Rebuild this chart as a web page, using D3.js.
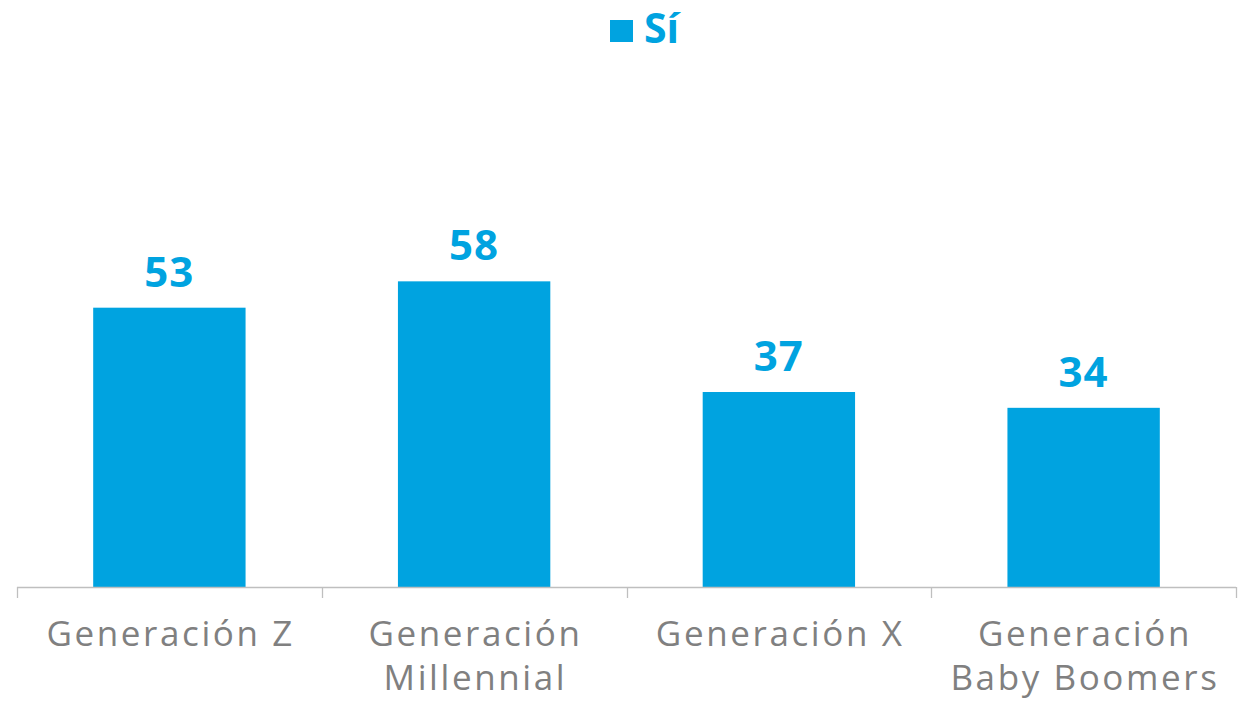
<!DOCTYPE html>
<html>
<head>
<meta charset="utf-8">
<script src="https://cdn.jsdelivr.net/npm/d3@7/dist/d3.min.js"></script>
<style>
  html, body { margin: 0; padding: 0; background: #ffffff; }
  svg { display: block; }
</style>
</head>
<body>
<svg id="chart" width="1248" height="701"></svg>
<script>
// Share answering "Sí" by generation
const categories = [
  ["Generación Z"],
  ["Generación", "Millennial"],
  ["Generación X"],
  ["Generación", "Baby Boomers"]
];
const seriesName = "Sí";
const values = [53, 58, 37, 34];

const blue = "#00a3e0";
const gray = "#808080";
const axisGray = "#bfbfbf";
const font = "'Open Sans', 'DejaVu Sans', sans-serif";

const svg = d3.select("#chart");
const left = 17, right = 1236, baseline = 587;

const x = d3.scaleBand()
  .domain(d3.range(categories.length))
  .range([left, right])
  .paddingInner(0.5)
  .paddingOuter(0.25);

const y = d3.scaleLinear()
  .domain([0, 70])
  .range([baseline, baseline - 70 * 5.27]);

// Bars
svg.append("g").selectAll("rect")
  .data(values)
  .join("rect")
  .attr("x", (d, i) => x(i))
  .attr("y", d => y(d))
  .attr("width", x.bandwidth())
  .attr("height", d => y(0) - y(d))
  .attr("fill", blue);

// Value labels
svg.append("g").selectAll("text")
  .data(values)
  .join("text")
  .attr("x", (d, i) => x(i) + x.bandwidth() / 2)
  .attr("y", d => y(d) - 21)
  .attr("text-anchor", "middle")
  .attr("font-family", font)
  .attr("font-weight", 700)
  .attr("font-size", 42)
  .attr("letter-spacing", 1)
  .attr("fill", blue)
  .text(d => d);

// Category axis: baseline with group-boundary ticks
const step = (right - left) / categories.length;
const axis = svg.append("g");
axis.append("line")
  .attr("x1", left).attr("x2", right)
  .attr("y1", baseline + 0.5).attr("y2", baseline + 0.5)
  .attr("stroke", axisGray).attr("stroke-width", 1.3);
axis.selectAll("line.tick")
  .data(d3.range(categories.length + 1))
  .join("line")
  .attr("class", "tick")
  .attr("x1", i => Math.round(left + i * step) + 0.5)
  .attr("x2", i => Math.round(left + i * step) + 0.5)
  .attr("y1", baseline)
  .attr("y2", baseline + 11)
  .attr("stroke", axisGray).attr("stroke-width", 1.3);

// Category labels (wrapped onto two lines where needed)
const labels = axis.selectAll("text.cat")
  .data(categories)
  .join("text")
  .attr("class", "cat")
  .attr("text-anchor", "middle")
  .attr("font-family", font)
  .attr("font-size", 35)
  .attr("letter-spacing", 2.6)
  .attr("fill", gray);
labels.each(function(lines, i) {
  const t = d3.select(this);
  lines.forEach((ln, j) => {
    t.append("tspan")
      .attr("x", x(i) + x.bandwidth() / 2 + 1.3)
      .attr("y", 646 + j * 44)
      .text(ln);
  });
});

// Legend
const legend = svg.append("g");
legend.append("rect")
  .attr("x", 610).attr("y", 20)
  .attr("width", 23).attr("height", 22)
  .attr("fill", blue);
legend.append("text")
  .attr("x", 644).attr("y", 43)
  .attr("font-family", font)
  .attr("font-weight", 700)
  .attr("font-size", 41)
  .attr("fill", blue)
  .text(seriesName);
</script>
</body>
</html>
